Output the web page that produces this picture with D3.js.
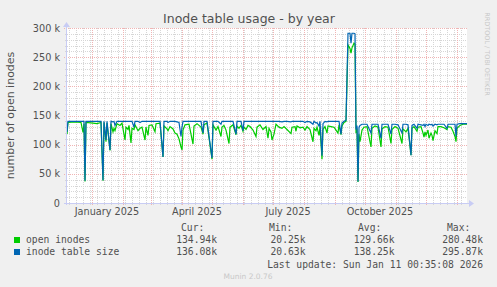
<!DOCTYPE html>
<html>
<head>
<meta charset="utf-8">
<script src="https://cdn.jsdelivr.net/npm/d3@7"></script>
<style>
body { margin: 0; background: #f0f0f0; }
text { fill: #505050; }
</style>
</head>
<body>
<div id="chart"></div>
<script>
// days since the left edge of the graph (2024-12-07 00:35 UTC)
var days = [0, 1, 8, 14, 16, 17, 18, 19, 26, 30, 34, 36, 37, 39, 40, 43, 44, 46, 47, 48, 50, 53, 55, 58, 59,
  61, 62, 64, 65, 67, 68, 71, 73, 75, 78, 79, 81, 82, 85, 88, 89, 93, 96, 97, 100, 101, 103, 106, 108, 110,
  112, 114, 115, 116, 118, 122, 126, 127, 130, 134, 136, 137, 140, 145, 146, 149, 151, 154, 155, 157, 159,
  162, 163, 166, 169, 170, 172, 174, 176, 177, 179, 181, 183, 186, 189, 190, 193, 196, 199, 201, 202, 204,
  205, 207, 209, 212, 215, 217, 220, 224, 225, 228, 229, 230, 233, 236, 238, 240, 243, 246, 247, 249, 250,
  252, 253, 255, 256, 258, 260, 261, 264, 267, 269, 271, 272, 274, 275, 277, 279, 281, 283, 284, 285, 287,
  288, 289, 290, 291, 292, 293, 295, 297, 300, 304, 305, 308, 311, 314, 315, 318, 321, 324, 325, 328, 331,
  335, 336, 339, 341, 344, 345, 347, 350, 351, 354, 356, 357, 358, 359, 361, 362, 364, 365, 366, 368, 370,
  371, 374, 377, 380, 381, 384, 386, 388, 389, 390, 393, 396, 400];

// inode table size (k)
var tableSize = [122, 140, 140, 140, 140, 140, 38, 140, 140, 140, 140, 39, 140, 108, 140, 91, 140, 139, 140, 133, 140, 140, 140, 140, 140,
  140, 140, 140, 140, 130, 140, 140, 138, 140, 140, 140, 140, 140, 140, 140, 140, 140, 79, 140, 140, 138, 140, 140, 140, 139,
  138, 114, 130, 140, 140, 140, 140, 140, 140, 140, 120, 140, 140, 77, 140, 140, 140, 135, 140, 140, 140,
  140, 140, 140, 118, 140, 140, 140, 124, 140, 140, 140, 140, 140, 140, 140, 140, 140, 140, 140, 140, 140,
  140, 140, 140, 140, 139, 140, 140, 139, 140, 140, 140, 140, 140, 140, 138, 140, 139, 135, 140, 137, 138,
  132, 140, 81, 136, 140, 139, 140, 140, 140, 140, 140, 140, 118, 137, 140, 142, 291, 291, 274, 291, 291,
  290, 126, 133, 37, 130, 133, 135, 135, 135, 120, 135, 135, 135, 111, 135, 135, 135, 118, 135, 135, 134,
  120, 135, 135, 134, 82, 133, 135, 128, 135, 134, 133, 135, 131, 135, 133, 135, 134, 135, 132, 135, 134,
  135, 135, 135, 128, 135, 135, 135, 135, 114, 135, 136, 136, 136];

// open inodes (k)
var openInodes = [118, 138, 139, 138, 121, 136, 37, 138, 137, 136, 138, 38, 138, 105, 137, 90, 136, 122, 128, 124, 136, 133, 137, 108, 130,
  126, 133, 103, 128, 126, 134, 124, 128, 130, 108, 130, 116, 133, 134, 122, 136, 137, 79, 132, 127, 124, 131, 127, 120, 118,
  110, 96, 91, 125, 134, 135, 101, 132, 136, 130, 118, 134, 137, 75, 134, 125, 131, 114, 130, 133, 125,
  102, 130, 134, 117, 132, 128, 133, 123, 130, 126, 133, 131, 125, 114, 130, 134, 126, 131, 111, 128, 122,
  108, 118, 135, 130, 128, 131, 126, 119, 130, 131, 123, 132, 129, 130, 125, 131, 126, 105, 128, 124, 130,
  116, 130, 75, 126, 131, 120, 132, 131, 130, 125, 120, 134, 117, 132, 138, 140, 271, 265, 257, 266, 274,
  272, 120, 128, 36, 118, 105, 125, 130, 131, 96, 128, 132, 130, 96, 127, 131, 130, 102, 126, 131, 128,
  102, 127, 122, 128, 82, 128, 131, 123, 130, 131, 120, 113, 122, 116, 125, 111, 120, 116, 107, 124, 119,
  131, 131, 129, 126, 131, 130, 123, 114, 105, 128, 133, 135, 135];

var yTicks = [0, 50, 100, 150, 200, 250, 300];
var xLabelMonths = ['2025-01-01', '2025-04-01', '2025-07-01', '2025-10-01'];

var legendNames = ['open inodes', 'inode table size'];
var legendColors = ['#00cc00', '#0066b3'];
var legendCur = ['134.94k', '136.08k'];
var legendMin = ['20.25k', '20.63k'];
var legendAvg = ['129.66k', '138.25k'];
var legendMax = ['280.48k', '295.87k'];

var svgWidth = 497;
var svgHeight = 287;
var plot = { left: 67, top: 28, width: 400, height: 175 };

var start = new Date(Date.UTC(2024, 11, 7, 0, 35));
var end = d3.utcDay.offset(start, 400);

var svg = d3.select('#chart').append('svg')
    .attr('width', svgWidth)
    .attr('height', svgHeight)
    .style('font-family', 'DejaVu Sans');

svg.append('rect')
    .attr('width', svgWidth)
    .attr('height', svgHeight)
    .attr('fill', '#f0f0f0');

var xScale = d3.scaleUtc()
    .domain([start, end])
    .range([plot.left, plot.left + plot.width]);

var yScale = d3.scaleLinear()
    .domain([0, 300])
    .range([plot.top + plot.height, plot.top]);

svg.append('rect')
    .attr('x', plot.left)
    .attr('y', plot.top)
    .attr('width', plot.width)
    .attr('height', plot.height)
    .attr('fill', '#ffffff');

var grid = svg.append('g').attr('shape-rendering', 'crispEdges');
var minorColor = '#d6d6d6';
var majorColor = '#f0b4b4';

// minor grid
var weeks = d3.utcMonday.range(start, end);
grid.selectAll('.vminor').data(weeks).enter().append('line')
    .attr('x1', d => Math.round(xScale(d)) + 0.5)
    .attr('x2', d => Math.round(xScale(d)) + 0.5)
    .attr('y1', plot.top)
    .attr('y2', plot.top + plot.height + 2)
    .attr('stroke', minorColor)
    .attr('stroke-dasharray', '1,1');

grid.selectAll('.hminor').data(d3.range(10, 300, 10).filter(v => v % 50 !== 0)).enter().append('line')
    .attr('x1', plot.left - 2)
    .attr('x2', plot.left + plot.width)
    .attr('y1', d => Math.round(yScale(d)) + 0.5)
    .attr('y2', d => Math.round(yScale(d)) + 0.5)
    .attr('stroke', minorColor)
    .attr('stroke-dasharray', '1,1');

// major grid
var months = d3.utcMonth.range(start, end);
grid.selectAll('.vmajor').data(months).enter().append('line')
    .attr('x1', d => Math.round(xScale(d)) + 0.5)
    .attr('x2', d => Math.round(xScale(d)) + 0.5)
    .attr('y1', plot.top)
    .attr('y2', plot.top + plot.height + 3)
    .attr('stroke', majorColor)
    .attr('stroke-dasharray', '1,1');

grid.selectAll('.hmajor').data(yTicks).enter().append('line')
    .attr('x1', plot.left - 3)
    .attr('x2', plot.left + plot.width)
    .attr('y1', d => Math.round(yScale(d)) + 0.5)
    .attr('y2', d => Math.round(yScale(d)) + 0.5)
    .attr('stroke', majorColor)
    .attr('stroke-dasharray', '1,1');

// y labels
svg.selectAll('.ylabel').data(yTicks).enter().append('text')
    .attr('x', 60)
    .attr('y', d => yScale(d) + 3.5)
    .attr('text-anchor', 'end')
    .style('font-size', '9.7px')
    .text(d => d === 0 ? '0' : d + ' k');

// x labels (centered half a month after the month start)
svg.selectAll('.xlabel').data(xLabelMonths).enter().append('text')
    .attr('x', d => xScale(d3.utcDay.offset(new Date(d + 'T00:00:00Z'), 15)))
    .attr('y', 215)
    .attr('text-anchor', 'middle')
    .style('font-size', '9.7px')
    .text(d => d3.utcFormat('%B %Y')(new Date(d + 'T00:00:00Z')));

// lines
var line = d3.line()
    .x((d, i) => xScale(d3.utcDay.offset(start, days[i])))
    .y(d => yScale(d));

svg.append('path')
    .datum(openInodes)
    .attr('d', line)
    .attr('fill', 'none')
    .attr('stroke', legendColors[0])
    .attr('stroke-width', 1.2);

svg.append('path')
    .datum(tableSize)
    .attr('d', line)
    .attr('fill', 'none')
    .attr('stroke', legendColors[1])
    .attr('stroke-width', 1.2);

// axes with arrows
var axisColor = '#c8ccf4';
svg.append('line')
    .attr('x1', plot.left - 0.5).attr('x2', plot.left - 0.5)
    .attr('y1', plot.top + plot.height + 2).attr('y2', plot.top - 2)
    .attr('stroke', axisColor);
svg.append('line')
    .attr('x1', plot.left - 3).attr('x2', plot.left + plot.width + 3)
    .attr('y1', plot.top + plot.height + 0.5).attr('y2', plot.top + plot.height + 0.5)
    .attr('stroke', axisColor);
svg.append('path')
    .attr('d', `M${plot.left - 4},${plot.top - 1} L${plot.left - 0.5},${plot.top - 6} L${plot.left + 3},${plot.top - 1} Z`)
    .attr('fill', axisColor);
svg.append('path')
    .attr('d', `M${plot.left + plot.width + 2},${plot.top + plot.height - 3} L${plot.left + plot.width + 7},${plot.top + plot.height + 0.5} L${plot.left + plot.width + 2},${plot.top + plot.height + 4} Z`)
    .attr('fill', axisColor);

// titles
svg.append('text')
    .attr('x', 249)
    .attr('y', 23)
    .attr('text-anchor', 'middle')
    .style('font-size', '12.5px')
    .text('Inode table usage - by year');

svg.append('text')
    .attr('transform', `translate(14,${plot.top + plot.height / 2}) rotate(-90)`)
    .attr('text-anchor', 'middle')
    .style('font-size', '11px')
    .text('number of open inodes');

svg.append('text')
    .attr('transform', 'translate(485,54) rotate(90)')
    .attr('text-anchor', 'middle')
    .style('font-size', '6.5px')
    .style('fill', '#c8c8c8')
    .text('RRDTOOL / TOBI OETIKER');

// legend
var mono = 'DejaVu Sans Mono';
var headers = [['Cur:', 181], ['Min:', 269], ['Avg:', 358], ['Max:', 447]];
svg.selectAll('.lhead').data(headers).enter().append('text')
    .attr('x', d => d[1])
    .attr('y', 231)
    .style('font-family', mono)
    .style('font-size', '9.7px')
    .text(d => d[0]);

var columns = [[legendCur, 217], [legendMin, 305.5], [legendAvg, 394.5], [legendMax, 483]];

legendNames.forEach(function(name, i) {
    var y = 243 + i * 12;
    svg.append('rect')
        .attr('x', 14).attr('y', y - 6)
        .attr('width', 6).attr('height', 6)
        .attr('fill', legendColors[i]);
    svg.append('text')
        .attr('x', 26).attr('y', y)
        .style('font-family', mono)
        .style('font-size', '9.7px')
        .text(name);
    columns.forEach(function(c) {
        svg.append('text')
            .attr('x', c[1]).attr('y', y)
            .attr('text-anchor', 'end')
            .style('font-family', mono)
            .style('font-size', '9.7px')
            .text(c[0][i]);
    });
});

svg.append('text')
    .attr('x', 483).attr('y', 267.5)
    .attr('text-anchor', 'end')
    .style('font-family', mono)
    .style('font-size', '9.7px')
    .text('Last update: Sun Jan 11 00:35:08 2026');

svg.append('text')
    .attr('x', 248).attr('y', 279)
    .attr('text-anchor', 'middle')
    .style('font-size', '7.5px')
    .style('fill', '#c8c8c8')
    .text('Munin 2.0.76');
</script>
</body>
</html>
